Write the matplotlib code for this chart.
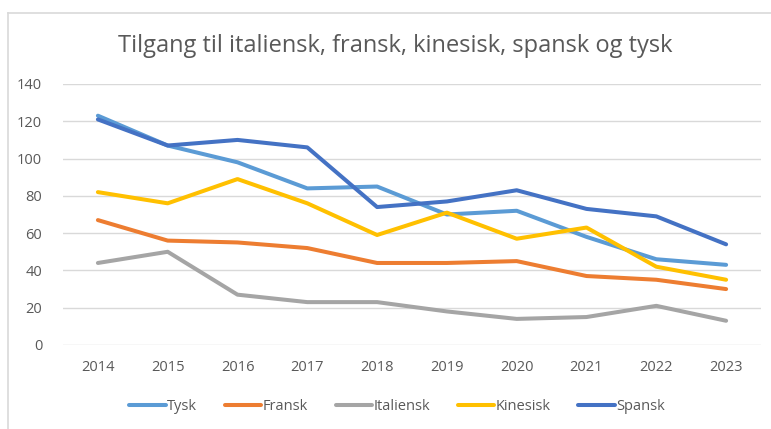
import matplotlib
matplotlib.use("Agg")
import matplotlib.pyplot as plt
from matplotlib.lines import Line2D

years = ["2014", "2015", "2016", "2017", "2018", "2019", "2020", "2021", "2022", "2023"]
tysk = [123, 107, 98, 84, 85, 70, 72, 58, 46, 43]
fransk = [67, 56, 55, 52, 44, 44, 45, 37, 35, 30]
italiensk = [44, 50, 27, 23, 23, 18, 14, 15, 21, 13]
kinesisk = [82, 76, 89, 76, 59, 71, 57, 63, 42, 35]
spansk = [121, 107, 110, 106, 74, 77, 83, 73, 69, 54]

series = [
    ("Tysk", tysk, "#5B9BD5"),
    ("Fransk", fransk, "#ED7D31"),
    ("Italiensk", italiensk, "#A5A5A5"),
    ("Kinesisk", kinesisk, "#FFC000"),
    ("Spansk", spansk, "#4472C4"),
]

plt.rcParams['font.family'] = ['Open Sans', 'DejaVu Sans']
text_col = "#595959"

fig = plt.figure(figsize=(7.71, 4.29), dpi=100)
ax = fig.add_axes([63 / 771, 1 - 345 / 429, 698 / 771, 261 / 429])

x = range(len(years))
for name, vals, col in series:
    ax.plot(x, vals, color=col, lw=2.9, label=name, solid_capstyle='round',
            solid_joinstyle='round')

ax.set_xlim(-0.5, len(years) - 0.5)
ax.set_ylim(0, 140)
ax.set_yticks(range(0, 141, 20))
ax.set_xticks(list(x))
ax.set_xticklabels(years)
ax.grid(axis='y', color="#D9D9D9", lw=1)
ax.set_axisbelow(True)
for s in ax.spines.values():
    s.set_visible(False)
ax.tick_params(length=0, colors=text_col, labelsize=10.5, pad=11)
ax.tick_params(axis='y', pad=15)

fig.text(0.512, 1 - 46 / 429, "Tilgang til italiensk, fransk, kinesisk, spansk og tysk",
         ha='center', va='center', fontsize=17, color=text_col)

handles = [Line2D([], [], color=c, lw=2.9, solid_capstyle='round') for _, _, c in series]
fig.legend(handles, [n for n, _, _ in series], loc='center', bbox_to_anchor=(0.515, 1 - 407 / 429),
           ncol=5, frameon=False, fontsize=10.5, labelcolor=text_col, handlelength=2.5,
           handletextpad=0.1, columnspacing=1.9)

# chart area border (top and left visible)
fig.add_artist(Line2D([7.5 / 771, 1], [1 - 12.5 / 429, 1 - 12.5 / 429], color="#D9D9D9", lw=1.2,
                      transform=fig.transFigure))
fig.add_artist(Line2D([7.5 / 771, 7.5 / 771], [0, 1 - 12.5 / 429], color="#D9D9D9", lw=1.2,
                      transform=fig.transFigure))

fig.savefig("out.png", dpi=100)
